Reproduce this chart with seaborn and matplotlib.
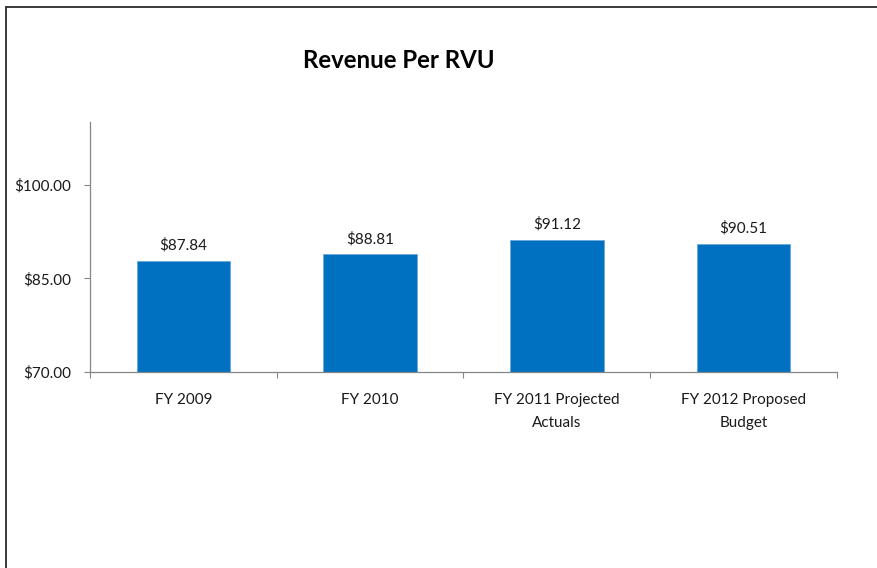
import matplotlib
matplotlib.use("Agg")
import matplotlib.pyplot as plt
from matplotlib.lines import Line2D
import seaborn as sns

categories = ["FY 2009", "FY 2010", "FY 2011 Projected\nActuals", "FY 2012 Proposed\nBudget"]
values = [87.84, 88.81, 91.12, 90.51]
yticks = [70, 85, 100]

sns.set_style("white")
plt.rcParams['font.family'] = ['Lato', 'DejaVu Sans']

fig = plt.figure(figsize=(8.78, 5.68), dpi=100)
ax = fig.add_axes([90/878, 1-372/568, (837-90)/878, (372-122)/568])

sns.barplot(x=categories, y=values, color="#0070C0", width=0.5, ax=ax,
            saturation=1, edgecolor="#6FA8DC", linewidth=0.6)

ax.set_ylim(70, 110)
ax.set_xlim(-0.5, len(categories) - 0.5)
ax.set_yticks(yticks)
ax.set_yticklabels([f"${v:.2f}" for v in yticks], fontsize=11, color="#1a1a1a")
ax.tick_params(axis='y', direction='out', length=4, width=0.8, color="#868686", pad=9.5, left=True)
ax.set_xticks(range(len(categories)))
ax.set_xticklabels(categories, fontsize=11, color="#1a1a1a", linespacing=1.8)
ax.tick_params(axis='x', which='major', length=0, pad=15)
ax.set_xticks([i - 0.5 for i in range(len(categories) + 1)], minor=True)
ax.tick_params(axis='x', which='minor', direction='out', length=4, width=0.8, color="#868686", bottom=True)
ax.set_xlabel("")
ax.set_ylabel("")

for s in ["top", "right"]:
    ax.spines[s].set_visible(False)
for s in ["left", "bottom"]:
    ax.spines[s].set_color("#868686")
    ax.spines[s].set_linewidth(0.9)

ax.bar_label(ax.containers[0], labels=[f"${v:.2f}" for v in values],
             padding=6, fontsize=11, color="#1a1a1a")

fig.text(399/878, 1-60/568, "Revenue Per RVU", ha="center", va="center",
         fontsize=17.3, fontweight="bold", color="#000000")

# outer frame (left and top edges visible)
fig.add_artist(Line2D([6.5/878, 6.5/878], [0, 1-6.5/568], transform=fig.transFigure,
                      color="#2b2b2b", linewidth=1.3))
fig.add_artist(Line2D([6.5/878, 1], [1-6.5/568, 1-6.5/568], transform=fig.transFigure,
                      color="#2b2b2b", linewidth=1.3))

fig.savefig("out.png", dpi=100)
